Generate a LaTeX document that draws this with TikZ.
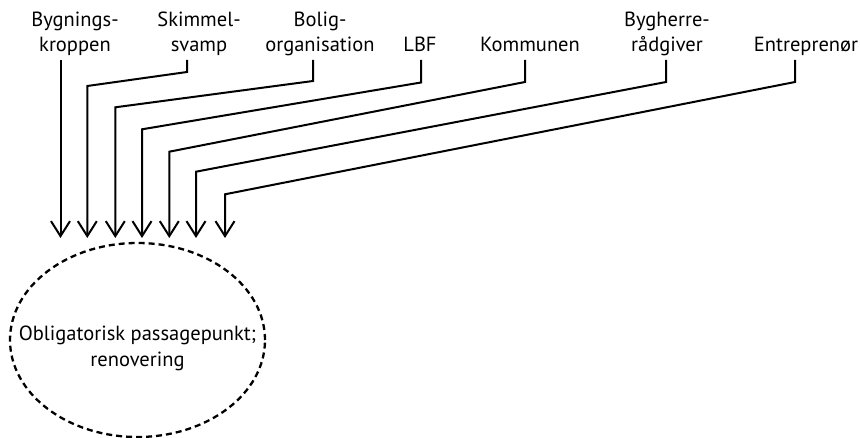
\documentclass[tikz,border=0pt]{standalone}
\usepackage{fontspec}
\setmainfont{PT Sans}
\usetikzlibrary{arrows.meta,shapes.geometric}
\begin{document}
\begin{tikzpicture}[x=1pt,y=-1pt,
  lbl/.style={font=\fontsize{20.5}{25.5}\selectfont, align=center, inner sep=0pt, anchor=base},
  conn/.style={line width=2pt, -{Straight Barb[length=15pt,width=19pt]}},
  opp/.style={ellipse, draw, dash pattern=on 6pt off 4pt, line width=2.3pt,
    minimum width=255pt, minimum height=194pt, inner sep=0pt}]
\useasboundingbox (0,0) rectangle (860,438);
\node[lbl] (bk) at (75,52) {Bygnings-\\kroppen};
\node[lbl] (sk) at (199,52) {Skimmel-\\svamp};
\node[lbl] (bo) at (320,52) {Bolig-\\organisation};
\node[lbl] (lbf) at (420,52) {LBF};
\node[lbl] (ko) at (530,52) {Kommunen};
\node[lbl] (bh) at (667,52) {Bygherre-\\rådgiver};
\node[lbl] (en) at (806,52) {Entreprenør};
\node[opp] (opp) at (137.5,340) {};
\node[lbl] (oppt) at (137.5,366.5) {Obligatorisk passagepunkt;\\renovering};
% stub starts
\coordinate (s1) at (60.5,60);
\coordinate (s2) at (187,60);
\coordinate (s3) at (313,60);
\coordinate (s4) at (421,60);
\coordinate (s5) at (525,60);
\coordinate (s6) at (666,60);
\coordinate (s7) at (795,60);
% tips
\coordinate (t1) at (60.5,238);
\coordinate (t2) at (87.3,238);
\coordinate (t3) at (115.3,238);
\coordinate (t4) at (142,238);
\coordinate (t5) at (169.3,238);
\coordinate (t6) at (196,238);
\coordinate (t7) at (225,238);
\draw[conn] (s1) -- (t1);
\draw[conn] (s2) -- (187,72) -- (87.3,86) -- (t2);
\draw[conn] (s3) -- (313,81) -- (115.3,107.3) -- (t3);
\draw[conn] (s4) -- (421,82.5) -- (142,129.3) -- (t4);
\draw[conn] (s5) -- (525,82) -- (169.3,151.7) -- (t5);
\draw[conn] (s6) -- (666,82) -- (196,171.7) -- (t6);
\draw[conn] (s7) -- (795,82) -- (225,194.3) -- (t7);
\end{tikzpicture}
\end{document}
